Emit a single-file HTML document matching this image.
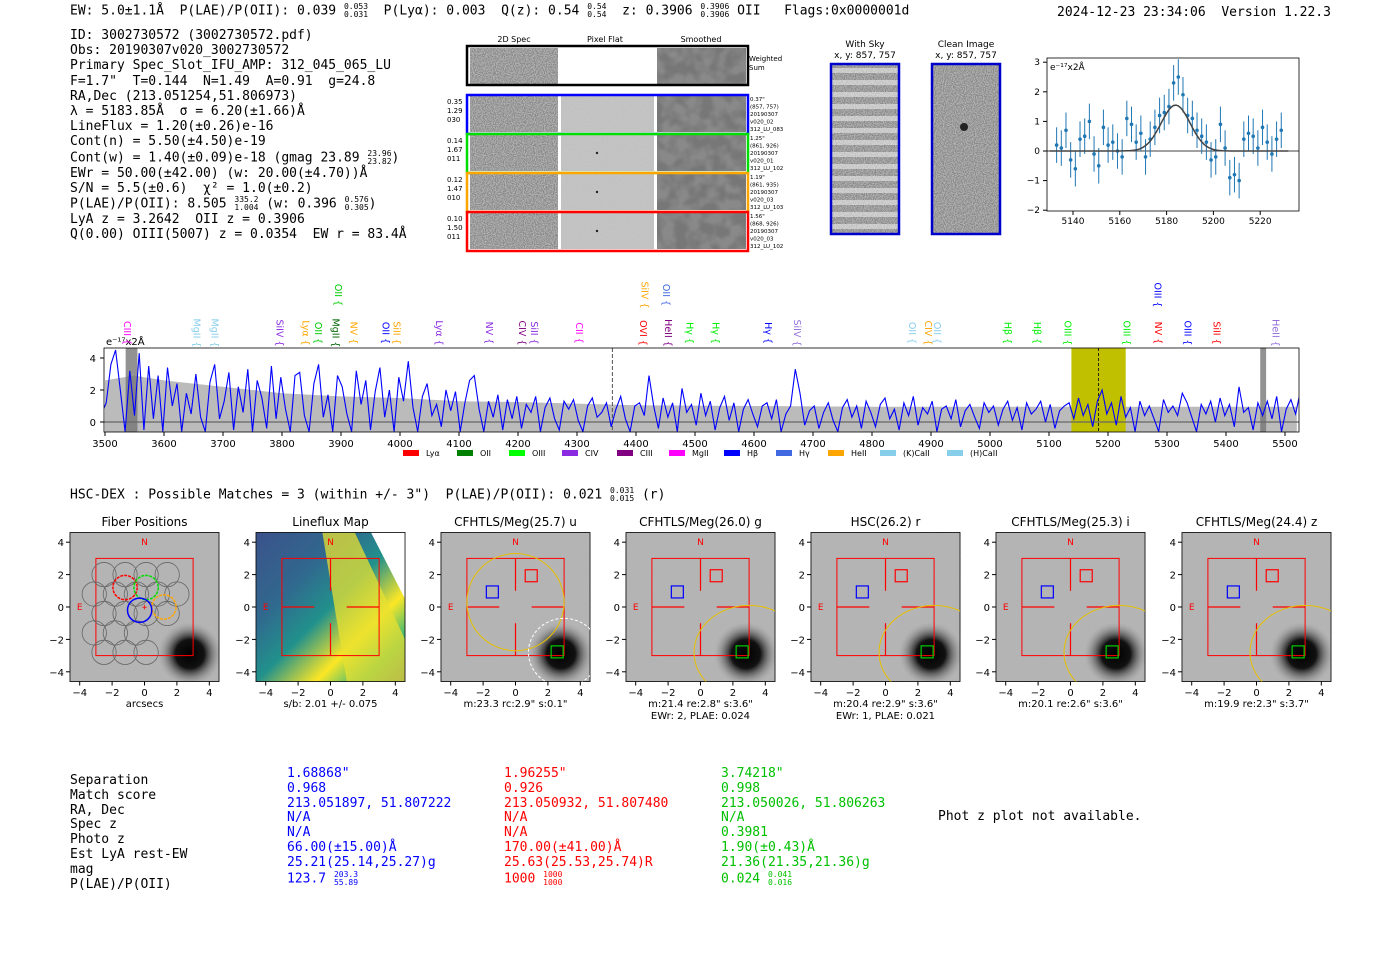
<!DOCTYPE html>
<html><head><meta charset="utf-8">
<style>
body{margin:0;background:#fff;width:1400px;height:953px;overflow:hidden;position:relative;font-family:"DejaVu Sans Mono","Liberation Mono",monospace;}
.t{position:absolute;white-space:pre;font-size:13px;color:#000;line-height:15px;}
.fr{display:inline-block;vertical-align:middle;font-size:8px;line-height:8px;text-align:left}
svg{position:absolute;left:0;top:0}
</style></head><body>
<div class="t" style="left:70px;top:3px">EW: 5.0±1.1Å  P(LAE)/P(OII): 0.039 <span class="fr">0.053<br>0.031</span>  P(Lyα): 0.003  Q(z): 0.54 <span class="fr">0.54<br>0.54</span>  z: 0.3906 <span class="fr">0.3906<br>0.3906</span> OII   Flags:0x0000001d</div>
<div class="t" style="left:1057px;top:5px">2024-12-23 23:34:06  Version 1.22.3</div>
<div class="t" style="left:70px;top:28px;line-height:15.2px">ID: 3002730572 (3002730572.pdf)
Obs: 20190307v020_3002730572
Primary Spec_Slot_IFU_AMP: 312_045_065_LU
F=1.7"  T=0.144  N=1.49  A=0.91  g=24.8
RA,Dec (213.051254,51.806973)
λ = 5183.85Å  σ = 6.20(±1.66)Å
LineFlux = 1.20(±0.26)e-16
Cont(n) = 5.50(±4.50)e-19
Cont(w) = 1.40(±0.09)e-18 (gmag 23.89 <span class="fr">23.96<br>23.82</span>)
EWr = 50.00(±42.00) (w: 20.00(±4.70))Å
S/N = 5.5(±0.6)  χ² = 1.0(±0.2)
P(LAE)/P(OII): 8.505 <span class="fr">335.2<br>1.004</span> (w: 0.396 <span class="fr">0.576<br>0.305</span>)
LyA z = 3.2642  OII z = 0.3906
Q(0.00) OIII(5007) z = 0.0354  EW r = 83.4Å</div>

<svg width="1400" height="953">
<defs>
<filter id="nz" x="0" y="0" width="100%" height="100%"><feTurbulence type="fractalNoise" baseFrequency="0.9" numOctaves="1" seed="3"/><feColorMatrix type="matrix" values="0 0 0 0 0.45  0 0 0 0 0.45  0 0 0 0 0.45  4 0 0 0 -1.5"/></filter>
<filter id="nzl" x="0" y="0" width="100%" height="100%"><feTurbulence type="fractalNoise" baseFrequency="0.7" numOctaves="1" seed="6"/><feColorMatrix type="matrix" values="0 0 0 0 0.5  0 0 0 0 0.5  0 0 0 0 0.5  3 0 0 0 -1.2"/></filter>
<filter id="nz2" x="0" y="0" width="100%" height="100%"><feTurbulence type="fractalNoise" baseFrequency="0.08" numOctaves="2" seed="5"/><feColorMatrix type="matrix" values="0 0 0 0 0.25  0 0 0 0 0.25  0 0 0 0 0.25  3 0 0 0 -1.0"/></filter>
<radialGradient id="blob"><stop offset="0" stop-color="#000"/><stop offset="0.45" stop-color="#111"/><stop offset="1" stop-color="#999" stop-opacity="0"/></radialGradient>
<linearGradient id="lf" x1="0" y1="0" x2="1" y2="1"><stop offset="0" stop-color="#3b528b"/><stop offset="0.3" stop-color="#31688e"/><stop offset="0.5" stop-color="#21918c"/><stop offset="0.7" stop-color="#fde725"/><stop offset="0.85" stop-color="#35b779"/><stop offset="1" stop-color="#3b528b"/></linearGradient>
</defs>
<g id="g2d"></g>
<g id="gcut"></g>
<g id="gfit"></g>
<g id="gspec"></g>
<g id="gimg"></g>
</svg>

<div class="t" style="left:70px;top:487px">HSC-DEX : Possible Matches = 3 (within +/- 3")  P(LAE)/P(OII): 0.021 <span class="fr">0.031<br>0.015</span> (r)</div>

<div class="t" style="left:70px;top:774px;line-height:14.8px">Separation
Match score
RA, Dec
Spec z
Photo z
Est LyA rest-EW
mag
P(LAE)/P(OII)</div>
<div class="t" style="left:287px;top:767px;line-height:14.8px;color:#0000ff">1.68868"
0.968
213.051897, 51.807222
N/A
N/A
66.00(±15.00)Å
25.21(25.14,25.27)g
123.7 <span class="fr">203.3<br>55.89</span></div>
<div class="t" style="left:504px;top:767px;line-height:14.8px;color:#ff0000">1.96255"
0.926
213.050932, 51.807480
N/A
N/A
170.00(±41.00)Å
25.63(25.53,25.74)R
1000 <span class="fr">1000<br>1000</span></div>
<div class="t" style="left:721px;top:767px;line-height:14.8px;color:#00c000">3.74218"
0.998
213.050026, 51.806263
N/A
0.3981
1.90(±0.43)Å
21.36(21.35,21.36)g
0.024 <span class="fr">0.041<br>0.016</span></div>
<div class="t" style="left:938px;top:809px">Phot z plot not available.</div>

<script>
const NS='http://www.w3.org/2000/svg';
function mk(parent,tag,attrs,txt){const e=document.createElementNS(NS,tag);for(const k in attrs)e.setAttribute(k,attrs[k]);if(txt!==undefined)e.textContent=txt;parent.appendChild(e);return e;}
const SF='DejaVu Sans, Liberation Sans, sans-serif';

/* ---------- 2D spectra panel ---------- */
const g2=document.getElementById('g2d');
const colHdr=['2D Spec','Pixel Flat','Smoothed'];
const colX=[470,561,657];
colHdr.forEach((h,i)=>{const t=mk(g2,'text',{x:colX[i]+44,y:42,'font-size':8,'text-anchor':'middle','font-family':SF},h);});
function cells(y,h,withFlat){
  mk(g2,'rect',{x:470,y:y,width:88,height:h,fill:'#888'});
  mk(g2,'rect',{x:470,y:y,width:88,height:h,fill:'#888',filter:'url(#nz)'});
  mk(g2,'rect',{x:561,y:y,width:93,height:h,fill:withFlat?'#c4c4c4':'#fff'});
  if(withFlat)mk(g2,'rect',{x:561,y:y,width:93,height:h,fill:'#ccc',filter:'url(#nzl)',opacity:0.5});
  mk(g2,'rect',{x:657,y:y,width:89,height:h,fill:'#777'});
  mk(g2,'rect',{x:657,y:y,width:89,height:h,fill:'#777',filter:'url(#nz2)'});
}
cells(48,36,false);
const ws=mk(g2,'rect',{x:467,y:46,width:281,height:39,fill:'none',stroke:'#000','stroke-width':2.5});

mk(g2,'text',{x:749,y:61,'font-size':7,'font-family':SF},'Weighted');
mk(g2,'text',{x:749,y:70,'font-size':7,'font-family':SF},'Sum');
const rowCols=['#0000ff','#00dd00','#ffa500','#ff0000'];
const rowL=[['0.35','1.29','030'],['0.14','1.67','011'],['0.12','1.47','010'],['0.10','1.50','011']];
const rowR=[['0.37"','(857, 757)','20190307','v020_02','312_LU_083'],['1.25"','(861, 926)','20190307','v020_01','312_LU_102'],['1.19"','(861, 935)','20190307','v020_03','312_LU_103'],['1.56"','(868, 926)','20190307','v020_03','312_LU_102']];
for(let i=0;i<4;i++){
  const y=96+i*39;
  cells(y,36,true);
  if(i>0)mk(g2,'circle',{cx:597,cy:y+18,r:1.2,fill:'#222'});
  const r=mk(g2,'rect',{x:467,y:y-1,width:281,height:39,fill:'none',stroke:rowCols[i],'stroke-width':2.5});
  
  rowL[i].forEach((s,j)=>mk(g2,'text',{x:447,y:y+8+j*9,'font-size':7,'font-family':SF},s));
  rowR[i].forEach((s,j)=>mk(g2,'text',{x:750,y:y+5+j*7.5,'font-size':5.5,'font-family':SF},s));
}

/* ---------- cutouts ---------- */
const gc=document.getElementById('gcut');
[[831,'With Sky'],[932,'Clean Image']].forEach(([x,t],k)=>{
  mk(gc,'text',{x:x+34,y:47,'font-size':9,'text-anchor':'middle','font-family':SF},t);
  mk(gc,'text',{x:x+34,y:58,'font-size':9,'text-anchor':'middle','font-family':SF},'x, y: 857, 757');
  mk(gc,'rect',{x:x,y:64,width:68,height:170,fill:'#888'});
  mk(gc,'rect',{x:x,y:64,width:68,height:170,fill:'#888',filter:'url(#nz)'});
  if(k===0){for(let j=0;j<14;j++)mk(gc,'rect',{x:x,y:68+j*12,width:68,height:5,fill:'#f0f0f0',opacity:0.55});}
  else mk(gc,'circle',{cx:x+32,cy:127,r:4,fill:'#222'});
  const b=mk(gc,'rect',{x:x,y:64,width:68,height:170,fill:'none',stroke:'#0000cc','stroke-width':2.5});
  
});

/* ---------- line fit plot ---------- */
const fitWave=[5137,5141,5145,5149,5153,5157,5161,5165,5169,5173,5177,5181,5183,5185,5187,5189,5193,5197,5201,5205,5209,5213,5217,5221,5225,5229,5133,5135,5139,5143,5147,5151,5155,5159,5163,5167,5171,5175,5179,5191,5195,5199,5203,5207,5211,5215,5219,5223,5227];
const fitFlux=[0.7,-0.6,0.5,-0.1,0.8,0.3,-0.2,0.9,0.6,0.4,1.2,1.5,2.3,2.5,1.9,1.2,0.7,0.3,-0.2,0.1,-0.8,0.4,0.5,0.8,-0.1,0.7,0.2,0.1,-0.3,0.4,1.0,-0.5,0.2,0.0,1.1,0.3,-0.2,0.8,1.3,1.1,0.5,-0.3,0.9,-0.9,-1.0,0.6,0.1,0.3,0.4];
const fitErr=[0.6,0.6,0.6,0.6,0.6,0.6,0.6,0.6,0.6,0.6,0.6,0.6,0.6,0.6,0.6,0.6,0.6,0.6,0.6,0.6,0.6,0.6,0.6,0.6,0.6,0.6,0.6,0.6,0.6,0.6,0.6,0.6,0.6,0.6,0.6,0.6,0.6,0.6,0.6,0.6,0.6,0.6,0.6,0.6,0.6,0.6,0.6,0.6,0.6];
const fitXTicks=[5140,5160,5180,5200,5220];
const fitYTicks=[3,2,1,0,-1,-2];
const fitModel={mu:5183.85,sigma:6.2,amp:1.55};
const gf=document.getElementById('gfit');
const fx=w=>1073+(w-5140)*2.34, fy=v=>151-v*29.6;
mk(gf,'rect',{x:1047,y:58,width:252,height:153,fill:'#fff',stroke:'#000','stroke-width':0.8});
mk(gf,'line',{x1:1047,x2:1299,y1:fy(0),y2:fy(0),stroke:'#000','stroke-width':0.8});
fitXTicks.forEach(v=>{mk(gf,'line',{x1:fx(v),x2:fx(v),y1:211,y2:215,stroke:'#000'});mk(gf,'text',{x:fx(v),y:224,'font-size':9,'text-anchor':'middle','font-family':SF},v);});
fitYTicks.forEach(v=>{mk(gf,'line',{x1:1043,x2:1047,y1:fy(v),y2:fy(v),stroke:'#000'});mk(gf,'text',{x:1040,y:fy(v)+3,'font-size':9,'text-anchor':'end','font-family':SF},v===-1?'−1':v===-2?'−2':v);});
mk(gf,'text',{x:1050,y:70,'font-size':9,'font-family':SF},'e⁻¹⁷x2Å');
fitWave.forEach((w,i)=>{
  const ln=mk(gf,'line',{x1:fx(w),x2:fx(w),y1:fy(fitFlux[i]-fitErr[i]),y2:fy(fitFlux[i]+fitErr[i]),stroke:'#1f77b4','stroke-width':1});
  
  const c=mk(gf,'circle',{cx:fx(w),cy:fy(fitFlux[i]),r:1.8,fill:'#1f77b4'});
  
});
let fp='';for(let w=5130;w<=5232;w+=1){const v=fitModel.amp*Math.exp(-0.5*((w-fitModel.mu)/fitModel.sigma)**2);fp+=(fp?'L':'M')+fx(w).toFixed(1)+','+fy(v).toFixed(1);}
const fcurve=mk(gf,'path',{d:fp,fill:'none',stroke:'#444','stroke-width':1.5});


/* ---------- full spectrum ---------- */
const specStart=3494, specStep=8;
const specFlux=[
0.5,1.2,3.6,4.5,2.0,-0.6,3.2,0.4,4.3,-0.5,3.5,0.2,2.9,-0.6,3.4,1.0,2.4,-0.6,1.8,0.5,3.0,0.3,-0.6,2.5,3.6,0.2,1.3,3.1,-0.5,2.2,0.6,3.3,-0.6,2.6,1.5,-0.4,3.5,0.2,2.8,0.8,-0.6,2.9,3.1,0.4,-0.6,2.4,3.6,0.3,1.7,-0.6,2.9,2.2,0.5,-0.6,3.2,1.1,2.6,-0.5,1.9,3.4,0.3,2.0,-0.6,2.8,1.3,3.8,0.9,-0.6,1.6,2.4,0.4,1.1,-0.3,2.0,0.7,1.9,-0.6,1.2,2.6,2.9,0.8,-0.6,1.3,0.3,1.7,-0.5,1.4,0.2,1.6,-0.4,1.1,0.6,1.6,-0.6,0.9,1.5,0.2,-0.5,1.3,0.8,1.4,0.1,-0.6,1.0,1.5,0.3,0.6,1.2,-0.3,0.8,1.6,0.2,-0.6,1.0,1.2,0.4,2.9,1.0,-0.4,1.5,0.3,1.2,-0.6,2.1,0.6,1.1,-0.2,1.8,0.4,1.3,-0.5,0.9,1.6,0.1,1.2,-0.6,0.8,1.4,0.5,-0.3,1.0,1.2,0.2,1.4,-0.6,0.5,1.0,3.3,1.8,-0.2,0.7,1.0,-0.4,0.6,1.2,0.1,-0.6,0.9,1.4,0.3,1.0,-0.4,1.3,0.6,-0.3,1.1,1.5,0.2,0.8,-0.5,1.2,0.4,1.6,-0.2,0.9,0.5,1.3,-0.6,0.8,1.0,0.2,1.4,-0.3,0.7,1.1,0.3,-0.4,1.2,0.6,1.0,-0.2,0.8,1.3,0.1,0.9,-0.5,1.2,0.5,0.8,1.3,0.0,1.1,-0.4,0.7,1.0,1.2,0.2,1.5,0.4,1.1,-0.3,1.3,2.0,0.5,1.2,-0.2,1.6,0.3,0.9,-0.6,1.3,0.4,1.0,0.2,-0.6,1.4,0.6,1.0,0.4,1.8,1.2,0.3,-0.6,1.1,0.5,1.3,0.0,1.5,0.4,1.1,-0.3,2.2,0.6,0.9,-0.5,1.2,0.4,1.3,0.2,1.6,-0.6,0.8,1.4,0.5,1.9,0.2,1.1,-0.4,0.9,1.6,0.7,1.5,1.0,0.8,0.9];
const errWave=[3500,3550,3600,3650,3700,3750,3800,3900,4000,4100,4200,4300,4400,4600,4800,5000,5200,5400,5520];
const specErr=[2.6,2.9,2.6,2.4,2.2,2.0,1.8,1.6,1.5,1.3,1.25,1.15,1.05,1.0,0.95,0.95,0.95,0.95,0.95];
const specXTicks=[3500,3600,3700,3800,3900,4000,4100,4200,4300,4400,4500,4600,4700,4800,4900,5000,5100,5200,5300,5400,5500];
const specYTicks=[0,2,4];
const lineNames=['CIII','MgII','MgII','SiIV','Lyα','OII','MgII','NV','OII','SiII','Lyα','NV','CIV','SiII','CII','OVI','HeII','Hγ','Hγ','Hγ','SiIV','OII','CIV','OII','Hβ','Hβ','OIII','OIII','NV','OIII','SiII','HeII','OII','SiIV','OII','OIII'];
const lineWaves=[3537,3655,3686,3796,3840,3861,3891,3921,3975,3994,4066,4151,4207,4227,4303,4412,4454,4491,4535,4624,4673,4868,4895,4910,5030,5080,5131,5231,5285,5335,5384,5484,3895,4414,4451,5284];
const lineColors=['#ff00ff','#87ceeb','#87ceeb','#8a2be2','#ffa500','#00cc00','#006400','#ffa500','#0000ff','#ffa500','#8a2be2','#8a2be2','#800080','#8a2be2','#ff00ff','#ff0000','#800080','#00ee00','#00ee00','#0000ff','#9370db','#87ceeb','#ffa500','#87ceeb','#00ee00','#00ee00','#00ee00','#00ee00','#ff0000','#0000ff','#ff0000','#9370db','#00cc00','#ffa500','#4169e1','#0000ff'];
const lineTier=[0,0,0,0,0,0,0,0,0,0,0,0,0,0,0,0,0,0,0,0,0,0,0,0,0,0,0,0,0,0,0,0,1,1,1,1];
const gs=document.getElementById('gspec');
const sx=w=>105+(w-3500)*0.59, sy=v=>422-v*16;
const AX0=104,AX1=1299,AY0=348,AY1=432;
mk(gs,'defs',{}).innerHTML='<clipPath id="cp"><rect x="104" y="348" width="1195" height="84"/></clipPath>';
const gsc=mk(gs,'g',{'clip-path':'url(#cp)'});
let ep='M'+sx(errWave[0])+','+sy(-1);
errWave.forEach((w,i)=>ep+='L'+sx(w).toFixed(1)+','+sy(specErr[i]).toFixed(1));
ep+='L'+sx(errWave[errWave.length-1])+','+sy(-1)+'Z';
const ea=mk(gsc,'path',{d:ep,fill:'#bbb'});
const hb=mk(gsc,'rect',{x:sx(5138),y:AY0,width:sx(5230)-sx(5138),height:84,fill:'#c0c000'});

mk(gsc,'rect',{x:sx(3535),y:AY0,width:sx(3555)-sx(3535),height:84,fill:'#777',opacity:0.8});
mk(gsc,'rect',{x:sx(5458),y:AY0,width:sx(5468)-sx(5458),height:84,fill:'#777',opacity:0.8});
mk(gsc,'line',{x1:AX0,x2:AX1,y1:sy(0),y2:sy(0),stroke:'#666','stroke-width':1.2});
mk(gsc,'line',{x1:sx(4360),x2:sx(4360),y1:AY0,y2:AY1,stroke:'#555','stroke-dasharray':'4,2'});
mk(gsc,'line',{x1:sx(5183.85),x2:sx(5183.85),y1:AY0,y2:AY1,stroke:'#000','stroke-dasharray':'3,2','stroke-width':0.8});
let sp='';specFlux.forEach((v,i)=>{const w=specStart+i*specStep;sp+=(i?'L':'M')+sx(w).toFixed(1)+','+sy(v).toFixed(1);});
const sl=mk(gsc,'path',{d:sp,fill:'none',stroke:'#0000ff','stroke-width':1.1});

mk(gs,'rect',{x:AX0,y:AY0,width:AX1-AX0,height:AY1-AY0,fill:'none',stroke:'#000','stroke-width':0.8});
specXTicks.forEach(v=>{mk(gs,'line',{x1:sx(v),x2:sx(v),y1:AY1,y2:AY1+4,stroke:'#000'});const t=mk(gs,'text',{x:sx(v),y:447,'font-size':10,'text-anchor':'middle','font-family':SF},v);});
specYTicks.forEach(v=>{mk(gs,'line',{x1:AX0-4,x2:AX0,y1:sy(v),y2:sy(v),stroke:'#000'});mk(gs,'text',{x:AX0-8,y:sy(v)+4,'font-size':10,'text-anchor':'end','font-family':SF},v);});
mk(gs,'text',{x:106,y:345,'font-size':10,'font-family':SF},'e⁻¹⁷x2Å');
lineNames.forEach((n,i)=>{
  const x=sx(lineWaves[i]), y=lineTier[i]?295:333;
  const t=mk(gs,'text',{x:0,y:0,'font-size':9.5,'font-family':SF,fill:lineColors[i],transform:`translate(${x-3},${y}) rotate(90)`,'text-anchor':'middle'},n+' {');
  
});
const legN=['Lyα','OII','OIII','CIV','CIII','MgII','Hβ','Hγ','HeII','(K)CaII','(H)CaII'];
const legC=['#ff0000','#008000','#00ff00','#8a2be2','#800080','#ff00ff','#0000ff','#4169e1','#ffa500','#87ceeb','#87ceeb'];
const legX=[403,457,509,562,617,669,724,776,828,880,947];
legN.forEach((n,i)=>{const r=mk(gs,'rect',{x:legX[i],y:450,width:16,height:6,fill:legC[i]});mk(gs,'text',{x:legX[i]+23,y:456,'font-size':8,'font-family':SF},n);});

/* ---------- imaging panels ---------- */
const gi=document.getElementById('gimg');
const panelX=[95,281,466,651,836,1021,1207];
const panelTitles=['Fiber Positions','Lineflux Map','CFHTLS/Meg(25.7) u','CFHTLS/Meg(26.0) g','HSC(26.2) r','CFHTLS/Meg(25.3) i','CFHTLS/Meg(24.4) z'];
const capA=['arcsecs','s/b: 2.01 +/- 0.075','m:23.3 rc:2.9"  s:0.1"','m:21.4  re:2.8"  s:3.6"','m:20.4  re:2.9"  s:3.6"','m:20.1  re:2.6"  s:3.6"','m:19.9  re:2.3"  s:3.7"'];
const capB=['','','','EWr: 2, PLAE: 0.024','EWr: 1, PLAE: 0.021','',''];
const imgTicks=[-4,-2,0,2,4];
panelX.forEach((px,k)=>{
  const cx=px+49.5, cy=607, sc=16.2;
  const X=v=>cx+v*sc, Y=v=>cy-v*sc;
  const g=mk(gi,'g',{});
  
  const L=X(-4.6),T=Y(4.6),W=9.2*sc;
  const cl=mk(g,'defs',{});cl.innerHTML=`<clipPath id="c${k}"><rect x="${L}" y="${T}" width="${W}" height="${W}"/></clipPath>`;
  if(k===1){
    mk(g,'rect',{x:L,y:T,width:W,height:W,fill:'url(#lf)'});
    mk(g,'path',{d:`M${X(-0.5)},${T} L${X(1.5)},${T} L${X(4.6)},${Y(-2)} L${X(4.6)},${Y(-4.6)} L${X(1)},${Y(-4.6)} Z`,fill:'#e8e030',opacity:0.75});
    mk(g,'path',{d:`M${X(2.5)},${T} L${L+W},${T} L${L+W},${Y(0.5)}Z`,fill:'#fff'});
  } else {
    mk(g,'rect',{x:L,y:T,width:W,height:W,fill:'#b5b5b5'});
    mk(g,'rect',{x:L,y:T,width:W,height:W,fill:'#aaa',filter:'url(#nz)'});
    mk(g,'circle',{cx:X(2.8),cy:Y(-2.9),r:32,fill:'url(#blob)','clip-path':`url(#c${k})`});
  }
  mk(g,'rect',{x:L,y:T,width:W,height:W,fill:'none',stroke:'#000','stroke-width':0.8});
  mk(g,'text',{x:cx,y:526,'font-size':12,'text-anchor':'middle','font-family':SF},panelTitles[k]);
  imgTicks.forEach(v=>{
    mk(g,'line',{x1:X(v),x2:X(v),y1:T+W,y2:T+W+4,stroke:'#000'});
    mk(g,'text',{x:X(v),y:696,'font-size':10,'text-anchor':'middle','font-family':SF},v<0?'−'+(-v):v);
    mk(g,'line',{x1:L-4,x2:L,y1:Y(v),y2:Y(v),stroke:'#000'});
    mk(g,'text',{x:L-6,y:Y(v)+4,'font-size':10,'text-anchor':'end','font-family':SF},v<0?'−'+(-v):v);
  });
  mk(g,'text',{x:cx,y:707,'font-size':10,'text-anchor':'middle','font-family':SF},capA[k]);
  if(capB[k])mk(g,'text',{x:cx,y:719,'font-size':10,'text-anchor':'middle','font-family':SF},capB[k]);
  mk(g,'rect',{x:X(-3),y:Y(3),width:6*sc,height:6*sc,fill:'none',stroke:'#ff0000','stroke-width':1});
  mk(g,'text',{x:X(0),y:Y(4)+3,'font-size':9,'text-anchor':'middle',fill:'#ff0000','font-family':SF},'N');
  mk(g,'text',{x:X(-4),y:Y(0)+3,'font-size':9,'text-anchor':'middle',fill:'#ff0000','font-family':SF},'E');
  if(k===0){
    [[-2.5,2],[-1.2,2],[0.1,2],[1.4,2],[-3.1,0.8],[-1.8,0.8],[-0.5,0.8],[0.8,0.8],[2,0.8],[-2.5,-0.4],[-1.2,-0.4],[0.1,-0.4],[1.4,-0.4],[-3.1,-1.6],[-1.8,-1.6],[-0.5,-1.6],[-1.2,-2.8],[0.1,-2.8],[-2.5,-2.8]].forEach(p=>mk(g,'circle',{cx:X(p[0]),cy:Y(p[1]),r:0.75*sc,fill:'none',stroke:'#666','stroke-width':0.8}));
    [[-1.2,1.2,'#ff0000'],[0.1,1.2,'#00dd00'],[1.2,0,'#ffa500'],[-0.3,-0.2,'#0000ff']].forEach(p=>mk(g,'circle',{cx:X(p[0]),cy:Y(p[1]),r:0.75*sc,fill:'none',stroke:p[2],'stroke-width':1.5,'stroke-dasharray':p[2]=='#0000ff'?'':'3,1'}));
    mk(g,'text',{x:X(0),y:Y(0)+3,'font-size':9,'text-anchor':'middle',fill:'#ff0000'},'+');
  } else {
    [[-1,0,-3,0],[1,0,3,0],[0,1,0,3],[0,-1,0,-3]].forEach(l=>mk(g,'line',{x1:X(l[0]),y1:Y(l[1]),x2:X(l[2]),y2:Y(l[3]),stroke:k===1?'#ff0000':'#ff0000','stroke-width':1.2}));
    if(k>=2){
      mk(g,'rect',{x:X(-1.8),y:Y(1.3),width:12,height:12,fill:'none',stroke:'#0000ff','stroke-width':1.2});
      mk(g,'rect',{x:X(0.6),y:Y(2.3),width:12,height:12,fill:'none',stroke:'#ff0000','stroke-width':1.2});
      mk(g,'rect',{x:X(2.2),y:Y(-2.4),width:12,height:12,fill:'none',stroke:'#00cc00','stroke-width':1.2});
      if(k===2)mk(g,'circle',{cx:X(0),cy:Y(0.3),r:3*sc,fill:'none',stroke:'#e8c000','stroke-width':1});
      mk(g,'ellipse',{cx:X(3),cy:Y(-2.8),rx:(k===2?2.2:3.4)*sc,ry:(k===2?2.1:2.9)*sc,fill:'none',stroke:k===2?'#fff':'#e8c000','stroke-width':1,'stroke-dasharray':k===2?'3,2':'','clip-path':`url(#c${k})`});
    }
  }
});
</script>
</body></html>
